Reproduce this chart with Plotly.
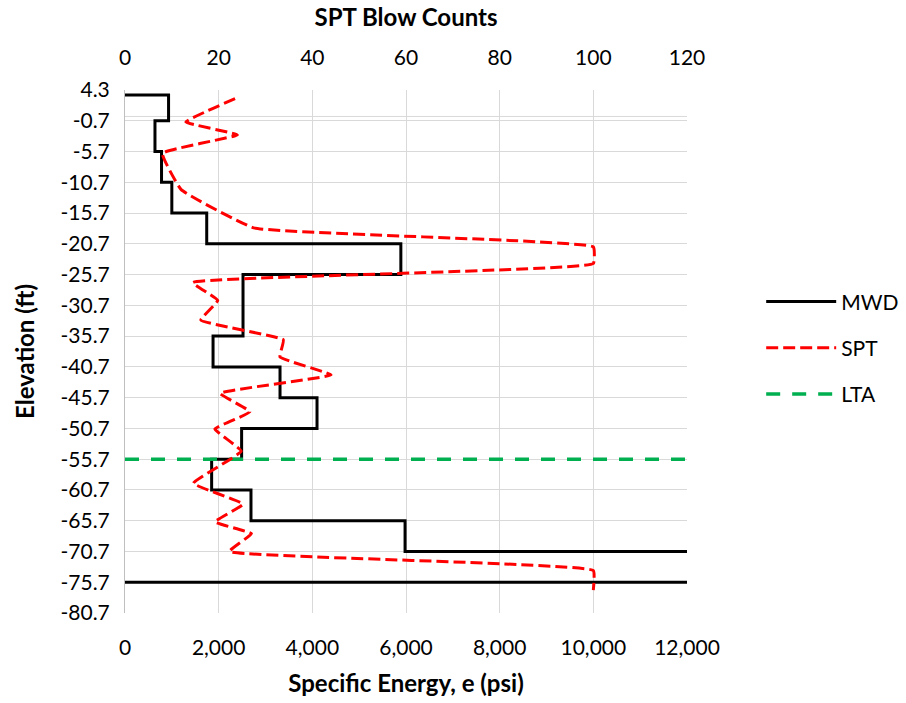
import plotly.graph_objects as go

# --- MWD specific energy, one value per depth interval (psi) ---
mwd_top_elev = [3.5, -0.7, -5.7, -10.7, -15.7, -20.7, -25.7, -35.7, -40.7, -45.7, -50.7, -55.7, -60.7, -65.7, -70.7]
mwd_bot_elev = [-0.7, -5.7, -10.7, -15.7, -20.7, -25.7, -35.7, -40.7, -45.7, -50.7, -55.7, -60.7, -65.7, -70.7, -75.7]
mwd_energy = [930, 640, 780, 1000, 1745, 5890, 2520, 1880, 3310, 4100, 2490, 1850, 2690, 5980, 15000]

# --- SPT blow counts by elevation ---
spt_elev = [2.9, -0.9, -3.0, -6.0, -11.9, -18.1, -21.2, -23.9, -27.0, -29.9, -33.1,
            -36.3, -39.1, -42.0, -45.0, -48.0, -50.8, -54.4, -59.6, -63.0, -65.9,
            -67.8, -70.7, -73.8, -77.0]
spt_blows = [23.5, 13, 24, 8, 12, 27.5, 100, 100, 14.5, 19.8, 16.2,
             33.8, 33.1, 44, 20.3, 26.7, 19.2, 24.8, 14.6, 25.2, 19.2,
             27, 22.3, 100, 100]

# --- Long-term average line elevation ---
lta_elev = -55.7

# y-axis ticks (elevation, ft)
y_ticks = [round(4.3 - 5 * k, 1) for k in range(18)]
y_ticktext = [f"{v:.1f}" for v in y_ticks]

# Build the MWD step outline from the interval arrays
mwd_x, mwd_y = [0], [mwd_top_elev[0]]
for top, bot, e in zip(mwd_top_elev, mwd_bot_elev, mwd_energy):
    mwd_x += [e, e]
    mwd_y += [top, bot]
mwd_x.append(0)
mwd_y.append(mwd_bot_elev[-1])

FONT = "Lato"
grid = "#D9D9D9"
TICK = 21
TITLE = 24

fig = go.Figure()
fig.add_trace(go.Scatter(
    x=mwd_x, y=mwd_y, mode="lines", name="MWD",
    line=dict(color="black", width=3), legendgroup="a"))
fig.add_trace(go.Scatter(
    x=spt_blows, y=spt_elev, mode="lines", name="SPT", xaxis="x2",
    line=dict(color="#FF0000", width=3, dash="12px,5px", shape="spline", smoothing=0.3),
    legendgroup="b"))
fig.add_trace(go.Scatter(
    x=[0, 12000], y=[lta_elev, lta_elev], mode="lines", name="LTA",
    line=dict(color="#00B050", width=3.5, dash="14px,12px"), legendgroup="c"))

# horizontal axis line at zero elevation
fig.add_shape(type="line", xref="paper", x0=0, x1=1, yref="y", y0=0, y1=0,
              line=dict(color=grid, width=1), layer="below")

fig.update_layout(
    width=906, height=703,
    margin=dict(l=125, r=219, t=90, b=90, autoexpand=False),
    plot_bgcolor="white", paper_bgcolor="white",
    font=dict(family=FONT, size=TICK, color="black"),
    showlegend=True,
    legend=dict(x=1.132, y=0.507, xanchor="left", yanchor="middle",
                font=dict(size=TICK), tracegroupgap=16,
                itemwidth=70, bgcolor="rgba(0,0,0,0)"),
    xaxis=dict(
        range=[0, 12000], dtick=2000, tickformat=",", showgrid=True, gridcolor=grid,
        zeroline=False, showline=False, ticks="", ticklabelstandoff=20, automargin=False,
        title=dict(text="<b>Specific Energy, e (psi)</b>", font=dict(size=TITLE), standoff=17)),
    xaxis2=dict(
        range=[0, 120], dtick=20, overlaying="x", side="top", showgrid=False,
        zeroline=False, showline=False, ticks="", ticklabelstandoff=20, automargin=False,
        title=dict(text="<b>SPT Blow Counts</b>", font=dict(size=TITLE), standoff=10)),
    yaxis=dict(
        range=[-80.7, 4.3], tickvals=y_ticks, ticktext=y_ticktext, showgrid=True,
        gridcolor=grid, zeroline=False, showline=True, linecolor="#BFBFBF", linewidth=1,
        ticks="", ticklabelstandoff=10, automargin=False,
        title=dict(text="<b>Elevation (ft)</b>", font=dict(size=TITLE), standoff=19)),
)

fig.write_html("out.html")
